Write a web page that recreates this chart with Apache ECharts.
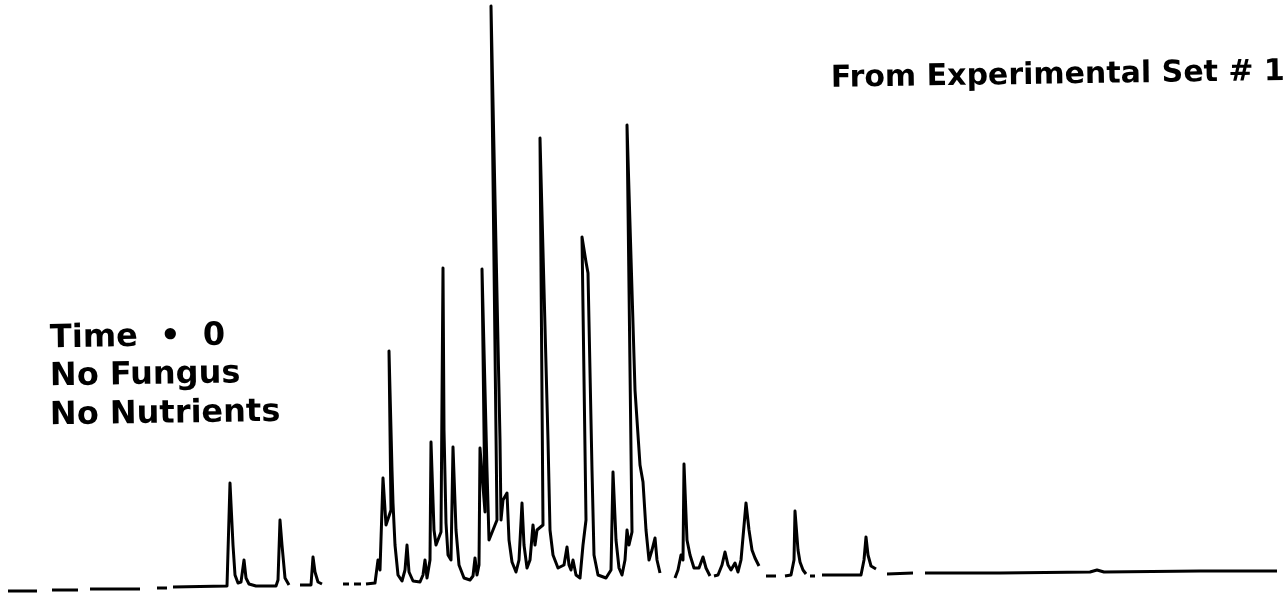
<!DOCTYPE html>
<html>
<head>
<meta charset="utf-8">
<script src="https://cdn.jsdelivr.net/npm/echarts@6/dist/echarts.min.js"></script>
<style>html,body{margin:0;padding:0;background:#fff}#c{width:1283px;height:595px}</style>
</head>
<body>
<div id="c"></div>
<script>
// Chromatogram trace (null = break in the printed trace)
const retentionTime = [
  0.8,3.7,null,5.2,7.8,null,9.0,14.0,null,15.7,16.7,null,
  17.3,22.7,23.0,23.3,23.5,23.8,24.1,24.4,24.6,24.9,25.6,27.6,27.8,28.0,28.2,28.5,28.9,null,
  30.0,31.1,31.3,31.5,31.8,32.2,null,34.3,34.9,null,35.4,36.1,null,
  36.6,37.5,37.8,38.0,38.3,38.6,39.1,38.9,39.2,39.3,39.5,39.8,40.2,40.5,40.7,40.9,41.3,42.0,42.3,42.5,42.7,
  43.0,43.1,43.4,43.6,44.1,44.3,44.4,44.6,44.8,45.1,45.3,45.6,45.9,46.4,47.0,47.3,47.5,47.7,47.9,48.0,48.5,48.2,
  48.7,48.9,49.7,49.1,50.0,50.1,50.3,50.7,50.9,51.2,51.6,51.9,52.2,52.4,52.7,53.0,53.3,53.5,53.7,54.3,54.0,
  54.8,55.0,55.3,55.8,56.4,56.7,56.9,57.1,57.3,57.6,58.0,58.3,58.6,58.2,58.6,58.8,59.2,59.4,59.8,60.6,61.1,
  61.3,61.6,61.9,62.2,62.5,62.7,62.9,63.2,62.7,63.5,64.0,64.3,64.6,64.9,65.2,65.5,65.7,66.0,null,
  67.5,67.8,68.1,68.3,68.4,68.7,69.0,69.4,69.9,70.3,70.6,71.0,null,
  71.4,71.8,72.2,72.5,72.8,73.1,73.5,73.8,74.1,74.6,74.9,75.2,75.5,75.9,null,
  76.6,77.6,null,78.5,79.1,79.4,79.5,79.8,80.0,80.3,80.6,null,81.0,81.5,null,
  82.2,86.1,86.4,86.6,86.8,87.1,87.6,null,88.7,91.3,null,
  92.5,100.0,109.0,109.7,110.4,120.0,127.7
];
const response = [
  -19,-19,null,-18,-18,null,-17,-17,null,-16,-16,null,
  -15,-14,89,27,-3,-11,-10,12,-6,-12,-14,-14,-8,52,27,-6,-13,null,
  -13,-13,15,0,-10,-12,null,-12,-12,null,-12,-12,null,
  -12,-11,12,2,94,47,62,221,102,69,27,-3,-9,2,27,0,-9,-10,-3,12,-6,
  12,130,42,27,40,304,142,49,17,12,125,42,7,-6,-8,-4,14,-3,7,124,60,303,
  102,32,52,566,132,52,72,79,32,10,0,12,69,27,4,12,47,27,42,47,434,
  132,42,17,4,7,25,7,2,12,-3,-6,27,52,335,310,299,102,17,-3,-6,2,
  100,32,4,-3,12,42,27,40,447,182,107,90,42,12,22,34,12,-1,null,
  -6,2,17,12,108,32,17,4,4,15,4,-4,null,
  -4,-3,7,20,7,2,9,0,12,69,42,22,14,6,null,
  -4,-4,null,-4,-3,12,61,22,10,2,-2,null,-4,-4,null,
  -3,-3,12,35,17,6,3,null,-2,-1,null,
  -1,-1,0,2,0,1,1
];
const headingText = 'From Experimental Set # 1';
const conditionLines = ['Time  •  0', 'No Fungus', 'No Nutrients'];

const traceData = retentionTime.map((t, i) =>
  response[i] === null ? ['-', '-'] : [t, response[i]]);

const chart = echarts.init(document.getElementById('c'), null, {renderer: 'canvas'});
const tilt = 0.015;
const textFont = {fontFamily: 'DejaVu Sans', fontWeight: 'bold', fill: '#000'};
chart.setOption({
  animation: false,
  backgroundColor: '#fff',
  grid: {left: 0, right: 0, top: 0, bottom: 0},
  xAxis: {type: 'value', min: 0, max: 128.3, show: false},
  yAxis: {type: 'value', min: -23, max: 572, show: false},
  series: [{
    type: 'line',
    data: traceData,
    showSymbol: false,
    connectNulls: false,
    lineStyle: {color: '#000', width: 3, join: 'round'},
    silent: true
  }],
  graphic: [
    {type: 'text', x: 831, y: 79, rotation: tilt,
     style: Object.assign({text: headingText, fontSize: 30, textVerticalAlign: 'middle', textAlign: 'left'}, textFont)},
    {type: 'text', x: 50, y: 339, rotation: tilt,
     style: Object.assign({text: conditionLines[0], fontSize: 32, textVerticalAlign: 'middle', textAlign: 'left'}, textFont)},
    {type: 'text', x: 50, y: 377, rotation: tilt,
     style: Object.assign({text: conditionLines[1], fontSize: 32, textVerticalAlign: 'middle', textAlign: 'left'}, textFont)},
    {type: 'text', x: 50, y: 416, rotation: tilt,
     style: Object.assign({text: conditionLines[2], fontSize: 32, textVerticalAlign: 'middle', textAlign: 'left'}, textFont)}
  ]
});
</script>
</body>
</html>
